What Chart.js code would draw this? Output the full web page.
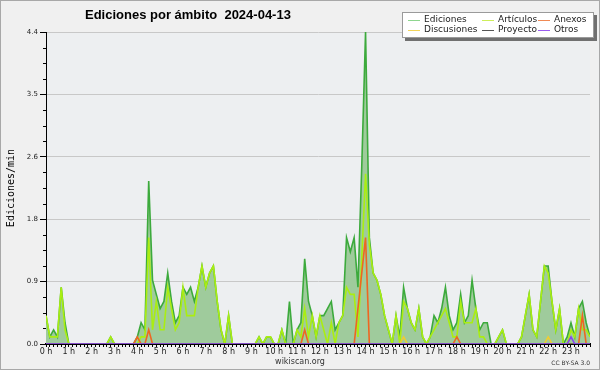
<!DOCTYPE html>
<html>
<head>
<meta charset="utf-8">
<script src="https://cdn.jsdelivr.net/npm/chart.js@4/dist/chart.umd.min.js"></script>
<style>
  html, body { margin: 0; padding: 0; background: #f0f0f0; }
  #wrap { width: 600px; height: 370px; }
</style>
</head>
<body>
<div id="wrap"><canvas id="grafico" width="600" height="370"></canvas></div>
<script>
// ediciones por minuto, tramos de 10 minutos (0:00 ... 23:50)
const ediciones = [
  0.4, 0.1, 0.2, 0.1, 0.8, 0.3, 0, 0, 0, 0, 0, 0,
  0, 0, 0, 0, 0, 0.1, 0, 0, 0, 0, 0, 0,
  0.1, 0.3, 0.2, 2.3, 0.9, 0.7, 0.5, 0.6, 1.0, 0.6, 0.3, 0.4,
  0.8, 0.7, 0.8, 0.6, 0.8, 1.1, 0.8, 1.0, 1.1, 0.6, 0.2, 0,
  0.4, 0, 0, 0, 0, 0, 0, 0, 0.1, 0, 0.1, 0.1,
  0, 0, 0.2, 0, 0.6, 0, 0.2, 0.3, 1.2, 0.6, 0.4, 0.1,
  0.4, 0.4, 0.5, 0.6, 0.2, 0.3, 0.4, 1.5, 1.3, 1.5, 0.8, 2.5,
  4.4, 1.5, 1.0, 0.9, 0.7, 0.4, 0.2, 0, 0.4, 0.1, 0.8, 0.5,
  0.3, 0.2, 0.5, 0.1, 0, 0.1, 0.4, 0.3, 0.5, 0.8, 0.4, 0.2,
  0.3, 0.7, 0.3, 0.4, 0.9, 0.5, 0.2, 0.3, 0.3, 0, 0, 0.1,
  0.2, 0, 0, 0, 0, 0.1, 0.4, 0.7, 0.2, 0.1, 0.6, 1.1,
  1.1, 0.6, 0.2, 0.5, 0, 0.1, 0.3, 0.1, 0.5, 0.6, 0.3, 0.1
];
const articulos = [
  0.4, 0.1, 0.1, 0.1, 0.8, 0.2, 0, 0, 0, 0, 0, 0,
  0, 0, 0, 0, 0, 0.1, 0, 0, 0, 0, 0, 0,
  0, 0.1, 0.1, 1.5, 0.2, 0.6, 0.2, 0.2, 0.8, 0.5, 0.2, 0.3,
  0.8, 0.4, 0.4, 0.4, 0.8, 1.1, 0.8, 1.0, 1.1, 0.6, 0.2, 0,
  0.4, 0, 0, 0, 0, 0, 0, 0, 0.1, 0, 0.1, 0.1,
  0, 0, 0.2, 0, 0, 0, 0.2, 0.1, 0.5, 0.1, 0.4, 0.1,
  0.4, 0.2, 0, 0.3, 0, 0.3, 0.4, 0.8, 0.7, 0.7, 0.1, 1.2,
  2.4, 1.4, 1.0, 0.9, 0.7, 0.4, 0.2, 0, 0.4, 0, 0.6, 0.5,
  0.3, 0.2, 0.5, 0.1, 0, 0.1, 0.2, 0.3, 0.4, 0.5, 0.3, 0.1,
  0.1, 0.6, 0.3, 0.3, 0.3, 0.5, 0.1, 0.1, 0, 0, 0, 0.1,
  0.2, 0, 0, 0, 0, 0.1, 0.4, 0.7, 0.2, 0.1, 0.6, 1.1,
  1.0, 0.6, 0.2, 0.5, 0, 0, 0.2, 0.1, 0.5, 0.2, 0.2, 0.1
];
// series casi vacias: tramo -> valor
const anexos = { 24: 0.1, 27: 0.2, 68: 0.2, 82: 0.5, 83: 1.0, 84: 1.5, 108: 0.1, 141: 0.4 };
const discusiones = { 94: 0.1, 132: 0.1 };
const proyecto = {};
const otros = { 138: 0.1 };

const yTicks = [0, 0.88, 1.76, 2.64, 3.52, 4.4];
const yTickLabels = ['0.0', '0.9', '1.8', '2.6', '3.5', '4.4'];
const horas = Array.from({ length: 24 }, (_, h) => h + ' h');

const tramos = ediciones.map((_, i) => i);
const completar = m => tramos.map(i => m[i] || 0);

const series = [
  { label: 'Ediciones', data: ediciones, color: '#3caa3c', muestra: '#8fd68f', orden: 6 },
  { label: 'Artículos', data: articulos, color: '#aaee11', muestra: '#cdee5a', orden: 5 },
  { label: 'Anexos', data: completar(anexos), color: '#ee6622', muestra: '#f08a55', orden: 4 },
  { label: 'Discusiones', data: completar(discusiones), color: '#eecc33', muestra: '#f2d45a', orden: 3 },
  { label: 'Proyecto', data: completar(proyecto), color: '#555555', muestra: '#555555', orden: 2 },
  { label: 'Otros', data: completar(otros), color: '#8844ee', muestra: '#9a5cf0', orden: 1 }
];
// orden de la leyenda (2 filas x 3 columnas)
const leyenda = ['Ediciones', 'Artículos', 'Anexos', 'Discusiones', 'Proyecto', 'Otros'];

const fondo = {
  id: 'fondo',
  beforeDraw(chart) {
    const { ctx, chartArea: a } = chart;
    ctx.save();
    ctx.fillStyle = '#f0f0f0';
    ctx.fillRect(0, 0, chart.width, chart.height);
    ctx.fillStyle = '#edeff1';
    ctx.fillRect(a.left, a.top, a.right - a.left, a.bottom - a.top);
    ctx.restore();
  }
};

const extras = {
  id: 'extras',
  afterDraw(chart) {
    const { ctx } = chart;
    const y = chart.scales.y;
    ctx.save();
    // marcas menores del eje y
    ctx.strokeStyle = '#000';
    ctx.lineWidth = 1;
    for (let k = 1; k < 20; k++) {
      if (k % 4 === 0) continue;
      const py = Math.round(y.getPixelForValue(k * 0.22)) + 0.5;
      ctx.beginPath();
      ctx.moveTo(y.right - 3, py);
      ctx.lineTo(y.right, py);
      ctx.stroke();
    }
    // titulo
    ctx.fillStyle = '#000';
    ctx.font = 'bold 13px "Liberation Sans"';
    ctx.textBaseline = 'alphabetic';
    ctx.textAlign = 'left';
    ctx.fillText('Ediciones por ámbito  2024-04-13', 85, 18.5);
    // pie
    ctx.fillStyle = '#333';
    ctx.font = '8px "DejaVu Sans"';
    ctx.textAlign = 'center';
    ctx.fillText('wikiscan.org', 300, 364);
    ctx.font = '6px "DejaVu Sans"';
    ctx.textAlign = 'right';
    ctx.fillText('CC BY-SA 3.0', 590, 365);
    // leyenda
    ctx.fillStyle = '#707070';
    ctx.fillRect(405, 15, 192, 26);
    ctx.fillStyle = '#ffffff';
    ctx.fillRect(402, 12, 192, 26);
    ctx.strokeStyle = '#9a9a9a';
    ctx.strokeRect(402.5, 12.5, 191, 25);
    const colX = [408, 482, 538];
    const filaY = [19.5, 29.5];
    ctx.font = '9px "DejaVu Sans"';
    ctx.textAlign = 'left';
    ctx.textBaseline = 'middle';
    leyenda.forEach((nombre, k) => {
      const s = series.find(d => d.label === nombre);
      const x = colX[k % 3], py = filaY[Math.floor(k / 3)];
      ctx.strokeStyle = s.muestra;
      ctx.beginPath();
      ctx.moveTo(x, Math.round(py) + 0.5);
      ctx.lineTo(x + 12, Math.round(py) + 0.5);
      ctx.stroke();
      ctx.fillStyle = '#222';
      ctx.fillText(nombre, x + 16, py);
    });
    // marco
    ctx.strokeStyle = '#a8a8a8';
    ctx.strokeRect(0.5, 0.5, chart.width - 1, chart.height - 1);
    ctx.restore();
  }
};

new Chart(document.getElementById('grafico'), {
  type: 'line',
  data: {
    labels: tramos,
    datasets: series.map(s => ({
      label: s.label,
      data: s.data,
      borderColor: s.color,
      backgroundColor: s.label === 'Ediciones' ? '#9fcb9c' : s.color,
      fill: s.label === 'Ediciones' ? 'origin' : false,
      borderWidth: 1.6,
      pointRadius: 0,
      tension: 0,
      order: s.orden
    }))
  },
  options: {
    responsive: false,
    animation: false,
    devicePixelRatio: 1,
    layout: { padding: { top: 32, right: 10, left: 0, bottom: 0 } },
    plugins: { legend: { display: false }, title: { display: false }, tooltip: { enabled: false } },
    scales: {
      x: {
        type: 'linear',
        min: 0,
        max: 143,
        z: 1,
        afterFit: s => { s.height = 26; },
        afterBuildTicks: s => { s.ticks = tramos.map(v => ({ value: v })); },
        grid: { drawOnChartArea: false, drawTicks: true, tickLength: 3, color: '#000' },
        border: { color: '#000', width: 2 },
        ticks: {
          autoSkip: false,
          maxRotation: 0,
          padding: 0,
          color: '#222',
          font: { family: 'DejaVu Sans', size: 8 },
          callback: v => (v % 6 === 0 ? horas[v / 6] : '')
        }
      },
      y: {
        min: 0,
        max: 4.4,
        afterFit: s => { s.width = 46; },
        afterBuildTicks: s => { s.ticks = yTicks.map(v => ({ value: v })); },
        grid: { color: '#c8c8c8', tickColor: '#000', tickLength: 6, lineWidth: 1 },
        border: { color: '#000', width: 1 },
        ticks: {
          padding: 2,
          color: '#222',
          font: { family: 'DejaVu Sans', size: 7 },
          callback: (v, i) => yTickLabels[i]
        },
        title: {
          display: true,
          text: 'Ediciones/min',
          color: '#000',
          padding: { top: 5, bottom: 0 },
          font: { family: 'DejaVu Sans Mono', size: 10 }
        }
      }
    }
  },
  plugins: [fondo, extras]
});
</script>
</body>
</html>
